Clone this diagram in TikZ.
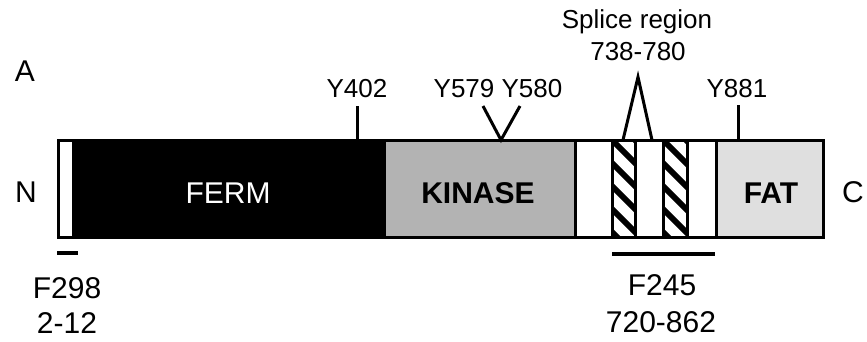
\documentclass[tikz,border=0pt]{standalone}
\usepackage{fontspec}
\setmainfont{Liberation Sans}
\usetikzlibrary{calc}
\definecolor{kinasegray}{HTML}{B3B3B3}
\definecolor{fatgray}{HTML}{DFDFDF}
\tikzset{
  seg/.style={rectangle, draw=black, line width=3pt, inner sep=0pt, outer sep=0pt,
    minimum height=97pt, anchor=north west},
  hatchbox/.style={seg, fill=white, path picture={
      \foreach \k in {-3,...,6}
        \draw[line width=6pt] ($(path picture bounding box.north west)+(0,\k*23)$) -- ++(40,40);
    }},
  bigtxt/.style={font=\fontsize{30}{36}\selectfont, inner sep=0pt, anchor=base},
  smalltxt/.style={font=\fontsize{26}{31}\selectfont, inner sep=0pt, anchor=base},
  tick/.style={line width=3pt},
  rangebar/.style={line width=3.5pt}
}
\begin{document}
\begin{tikzpicture}[x=1pt,y=-1pt]
\useasboundingbox (0,0) rectangle (867,341);
% segments
\node[seg, fill=white, minimum width=15pt] (nterm) at (58,140) {};
\node[seg, fill=black, minimum width=311pt] (ferm) at (73,140) {};
\node[seg, fill=kinasegray, minimum width=191pt] (kinase) at (384,140) {};
\node[seg, fill=white, minimum width=37pt] (w1) at (575,140) {};
\node[hatchbox, minimum width=23pt] (h1) at (612,140) {};
\node[seg, fill=white, minimum width=28pt] (w2) at (635,140) {};
\node[hatchbox, minimum width=24pt] (h2) at (663,140) {};
\node[seg, fill=white, minimum width=29pt] (w3) at (687,140) {};
\node[seg, fill=fatgray, minimum width=107pt] (fat) at (716,140) {};
% labels inside
\node[bigtxt, text=white] (fermlbl) at (228,203) {FERM};
\node[bigtxt, font=\fontsize{30}{36}\selectfont\bfseries] (kinlbl) at (478,203) {KINASE};
\node[bigtxt, font=\fontsize{30}{36}\selectfont\bfseries] (fatlbl) at (771,203) {FAT};
% side labels
\node[bigtxt] (lblA) at (25,81) {A};
\node[bigtxt] (lblN) at (26,202) {N};
\node[bigtxt] (lblC) at (853,202) {C};
% phosphosites
\coordinate (y402top) at (357,106);
\draw[tick] (y402top) -- (y402top |- ferm.north);
\node[smalltxt] (y402) at (357,97) {Y402};
\coordinate (vleft) at (483,106);
\coordinate (vright) at (520,106);
\coordinate (vapex) at (501,140);
\draw[tick, line join=miter] (vleft) -- (vapex) -- (vright);
\node[smalltxt] (y579) at (498,97) {Y579 Y580};
\coordinate (y881top) at (738,105);
\draw[tick] (y881top) -- (y881top |- fat.north);
\node[smalltxt] (y881) at (737,97) {Y881};
% splice region
\coordinate (sapex) at (638,77);
\coordinate (sleft) at (623,140);
\coordinate (sright) at (652,140);
\draw[tick, line join=miter] (sleft) -- (sapex) -- (sright);
\node[smalltxt] (splice1) at (637,28) {Splice region};
\node[smalltxt] (splice2) at (638,60) {738-780};
% ranges
\coordinate (f298a) at (57,253);
\coordinate (f298b) at (78,253);
\draw[rangebar] (f298a) -- (f298b);
\node[bigtxt] (f298) at (67,298) {F298};
\node[bigtxt] (f298r) at (67,333) {2-12};
\coordinate (f245a) at (612,254);
\coordinate (f245b) at (715,254);
\draw[rangebar] (f245a) -- (f245b);
\node[bigtxt] (f245) at (662,295) {F245};
\node[bigtxt] (f245r) at (661,332) {720-862};
\end{tikzpicture}
\end{document}
